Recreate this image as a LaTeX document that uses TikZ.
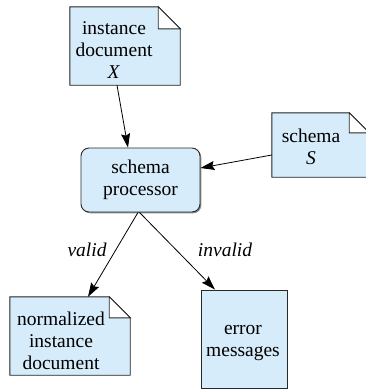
\documentclass[tikz,border=0pt]{standalone}
\usepackage{fontspec}
\setmainfont{Liberation Serif}
\usetikzlibrary{arrows.meta}
\definecolor{boxfill}{RGB}{214,236,250}
\definecolor{edgecol}{RGB}{40,40,40}
\definecolor{shadowcol}{RGB}{140,140,140}
\begin{document}
\begin{tikzpicture}[x=1pt,y=1pt,
  every node/.style={font=\fontsize{19.5}{22}\selectfont},
  docbox/.style={draw=none,inner sep=0pt,align=center},
  procbox/.style={draw=edgecol,line width=0.9pt,fill=boxfill,rounded corners=8pt,inner sep=0pt,align=center},
  plainbox/.style={draw=edgecol,line width=0.9pt,fill=boxfill,inner sep=0pt,align=center},
  conn/.style={draw=black,line width=0.8pt,-{Stealth[length=14pt,width=9pt,inset=2pt]}},
  lbl/.style={font=\fontsize{19.5}{22}\selectfont\itshape}]
\useasboundingbox (0,0) rectangle (365,-389);
\newcommand{\docshape}[2]{%
  \fill[shadowcol,shift={(1.3,-1.3)}] (#1.south west) -- (#1.north west) -- ([xshift=-#2]#1.north east) -- ([yshift=-#2]#1.north east) -- (#1.south east) -- cycle;
  \fill[boxfill,draw=edgecol,line width=0.9pt] (#1.south west) -- (#1.north west) -- ([xshift=-#2]#1.north east) -- ([yshift=-#2]#1.north east) -- (#1.south east) -- cycle;
  \filldraw[fill=white,draw=edgecol,line width=0.9pt] ([xshift=-#2]#1.north east) -- ([xshift=-#2,yshift=-#2]#1.north east) -- ([yshift=-#2]#1.north east) -- cycle;}
% node frames
\node[docbox,minimum width=110pt,minimum height=78pt] (inst) at (125,-46) {};
\node[docbox,minimum width=97pt,minimum height=64pt] (schema) at (320.5,-145) {};
\node[docbox,minimum width=120pt,minimum height=78pt] (norm) at (70,-336) {};
\docshape{inst}{22pt}
\docshape{schema}{20pt}
\docshape{norm}{21pt}
\fill[shadowcol,rounded corners=8pt] (82.3,-149.3) rectangle (201.3,-213.3);
\node[procbox,minimum width=119pt,minimum height=64pt] (proc) at (140.5,-180) {schema\\processor};
\fill[shadowcol] (202.3,-291.3) rectangle (288.3,-389.3);
\node[plainbox,minimum width=86pt,minimum height=98pt] (err) at (244,-339) {};
% texts
\node[docbox] (instT) at (114,-50) {instance\\document\\\textit{X}};
\node[docbox] (schemaT) at (311,-147) {schema\\\textit{S}};
\node[docbox] (normT) at (61,-341) {normalized\\instance\\document};
\node[docbox] (errT) at (243,-343) {error\\messages};
% connectors
\draw[conn] ([xshift=-8pt]inst.south) -- ([xshift=-12.5pt]proc.north);
\draw[conn] ([yshift=-10pt]schema.west) -- ([yshift=12pt]proc.east);
\draw[conn] ([xshift=-2.5pt]proc.south) -- ([xshift=18pt]norm.north);
\draw[conn] ([xshift=-1pt]proc.south) -- ([xshift=-29pt]err.north);
% labels
\node[lbl] (validL) at (87,-250) {valid};
\node[lbl] (invalidL) at (225,-250) {invalid};
\end{tikzpicture}
\end{document}
